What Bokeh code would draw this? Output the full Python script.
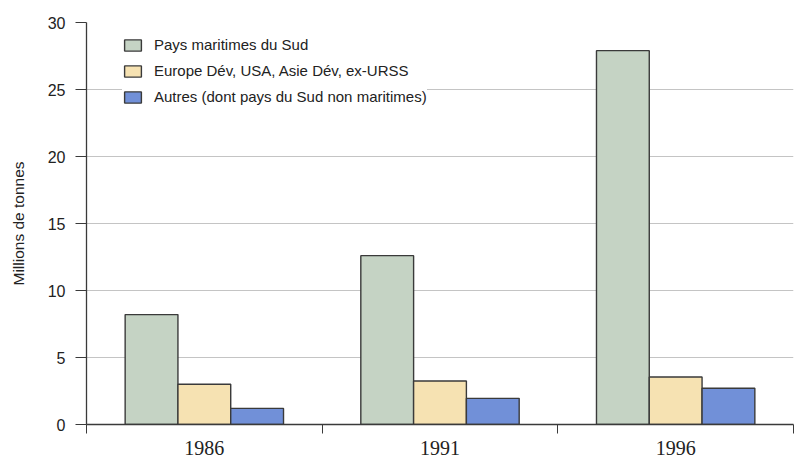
from bokeh.plotting import figure
from bokeh.models import FixedTicker, ColumnDataSource, Legend, LegendItem, Range1d
from bokeh.transform import dodge
from bokeh.embed import file_html
from bokeh.resources import INLINE

# Données : production en millions de tonnes
years = ["1986", "1991", "1996"]
series_names = [
    "Pays maritimes du Sud",
    "Europe Dév, USA, Asie Dév, ex-URSS",
    "Autres (dont pays du Sud non maritimes)",
]
pays_maritimes_sud = [8.2, 12.6, 27.9]
europe_usa_asie = [3.0, 3.25, 3.55]
autres = [1.2, 1.95, 2.7]
y_ticks = [0, 5, 10, 15, 20, 25, 30]

colors = ["#c5d3c4", "#f6e2b2", "#7190d8"]
outline = "#3a3a3a"
sans = "Liberation Sans"
serif = "Liberation Serif"

# one slot per year on a numeric axis, centred on i + 0.5
xc = [i + 0.5 for i in range(len(years))]
source = ColumnDataSource(dict(
    xc=xc, s1=pays_maritimes_sud, s2=europe_usa_asie, s3=autres,
))

p = figure(
    width=800, height=457,
    x_range=Range1d(0, len(years)), y_range=Range1d(0, 30),
    output_backend="svg", toolbar_location=None,
    min_border_left=86, min_border_right=7,
    min_border_top=22, min_border_bottom=31,
)
p.outline_line_color = None
p.background_fill_color = "white"
p.border_fill_color = "white"

bw = 0.224
renderers = []
for field, off, col in zip(["s1", "s2", "s3"], [-bw, 0.0, bw], colors):
    r = p.vbar(
        x=dodge("xc", off, range=p.x_range), top=field, width=bw,
        source=source, fill_color=col, line_color=outline, line_width=1.4,
    )
    renderers.append(r)

# y axis
p.yaxis.ticker = FixedTicker(ticks=y_ticks)
p.yaxis.axis_label = "Millions de tonnes"
p.yaxis.axis_label_text_font = sans
p.yaxis.axis_label_text_font_size = "15.5px"
p.yaxis.axis_label_text_font_style = "normal"
p.yaxis.axis_label_text_color = "#222222"
p.yaxis.axis_label_standoff = 18
p.yaxis.major_label_text_font = sans
p.yaxis.major_label_text_font_size = "16px"
p.yaxis.major_label_text_color = "#222222"
p.yaxis.major_label_standoff = 10
p.yaxis.major_tick_out = 11
p.yaxis.major_tick_in = 0
p.yaxis.minor_tick_line_color = None
p.yaxis.axis_line_color = outline
p.yaxis.major_tick_line_color = outline
p.yaxis.axis_line_width = 1.3

# x axis: labels at slot centres, ticks at slot boundaries
p.xaxis.ticker = FixedTicker(ticks=xc, minor_ticks=list(range(len(years) + 1)))
p.xaxis.major_label_overrides = {x: y for x, y in zip(xc, years)}
p.xaxis.major_label_text_font = serif
p.xaxis.major_label_text_font_size = "20px"
p.xaxis.major_label_text_color = "#222222"
p.xaxis.major_label_standoff = 7
p.xaxis.major_tick_out = 0
p.xaxis.major_tick_in = 0
p.xaxis.minor_tick_out = 9
p.xaxis.minor_tick_in = 0
p.xaxis.minor_tick_line_color = outline
p.xaxis.axis_line_color = outline
p.xaxis.axis_line_width = 1.3

p.xgrid.grid_line_color = None
p.ygrid.ticker = FixedTicker(ticks=y_ticks)
p.ygrid.grid_line_color = "#c4c4c4"
p.ygrid.grid_line_width = 1.2

legend = Legend(
    items=[LegendItem(label=n, renderers=[r]) for n, r in zip(series_names, renderers)],
    location=(36, 319),
    background_fill_color="white", background_fill_alpha=1.0,
    border_line_color=None,
    padding=15, spacing=9,
    glyph_width=21, glyph_height=14, label_height=14,
    label_standoff=11,
    label_text_font=sans, label_text_font_size="15px", label_text_color="#222222",
)
p.add_layout(legend)

open("out.html", "w").write(file_html(p, INLINE))
